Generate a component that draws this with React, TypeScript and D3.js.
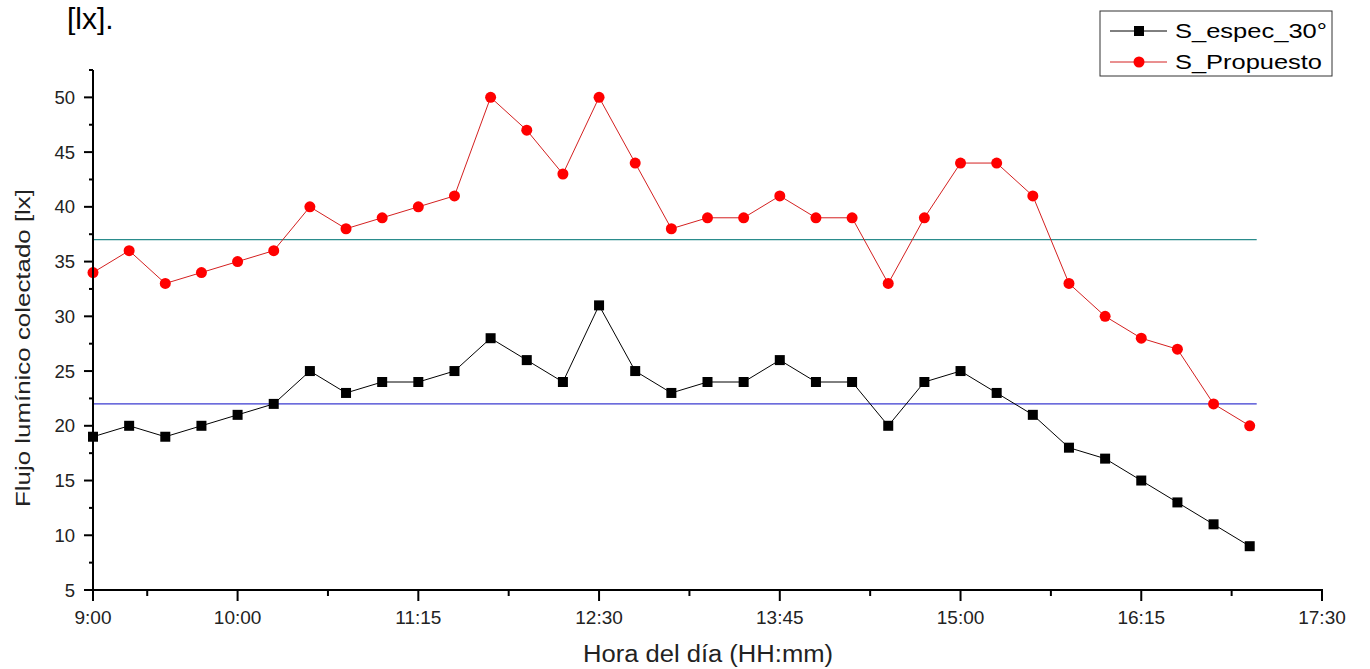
import React from "react";
import * as d3 from "d3";

const times = ["9:00","9:15","9:30","9:45","10:00","10:15","10:30","10:45","11:00","11:15","11:30","11:45","12:00","12:15","12:30","12:45","13:00","13:15","13:30","13:45","14:00","14:15","14:30","14:45","15:00","15:15","15:30","15:45","16:00","16:15","16:30","16:45","17:00"];
const sEspec = [19,20,19,20,21,22,25,23,24,24,25,28,26,24,31,25,23,24,24,26,24,24,20,24,25,23,21,18,17,15,13,11,9];
const sPropuesto = [34,36,33,34,35,36,40,38,39,40,41,50,47,43,50,44,38,39,39,41,39,39,33,39,44,44,41,33,30,28,27,22,20];
const xTickLabels = ["9:00","10:00","11:15","12:30","13:45","15:00","16:15","17:30"];
const xMinorLabels = ["9:22.5","10:37.5","11:52.5","13:07.5","14:22.5","15:37.5","16:52.5"];
const yTicks = [5,10,15,20,25,30,35,40,45,50];
const yMinor = [7.5,12.5,17.5,22.5,27.5,32.5,37.5,42.5,47.5,52.5];
const refLines = [{ value: 37, color: "#2a8c8c" }, { value: 22, color: "#3b3bd0" }];

const toMin = (s: string) => { const [h, m] = s.split(":"); return +h * 60 + parseFloat(m); };

export default function App() {
  const x = d3.scaleLinear().domain([toMin("9:00"), toMin("17:30")]).range([93, 1322]);
  const y = d3.scaleLinear().domain([5, 52.5]).range([590, 70]);
  const font = "'Liberation Sans', Arial, sans-serif";
  const lineGen = (vals: number[]) =>
    d3.line<number>().x((_, i) => x(toMin(times[i]))).y((v) => y(v))(vals) || "";
  const xEndRef = x(toMin("17:00")) + 7;

  return (
    <svg width={1370} height={669} style={{ position: "absolute", left: 0, top: 0, background: "#fff" }} fontFamily={font}>
      <text x={67} y={29} fontSize={30} fill="#000">[lx].</text>

      {refLines.map((r) => (
        <line key={r.value} x1={x(toMin("9:00"))} x2={xEndRef} y1={y(r.value)} y2={y(r.value)} stroke={r.color} strokeWidth={1.3} />
      ))}

      <path d={lineGen(sEspec)} fill="none" stroke="#000" strokeWidth={1} />
      <path d={lineGen(sPropuesto)} fill="none" stroke="#d42020" strokeWidth={1} />
      {sEspec.map((v, i) => (
        <rect key={"e" + i} x={x(toMin(times[i])) - 5} y={y(v) - 5} width={10} height={10} fill="#000" />
      ))}
      {sPropuesto.map((v, i) => (
        <circle key={"p" + i} cx={x(toMin(times[i]))} cy={y(v)} r={5.5} fill="#ff0000" />
      ))}

      {/* axes */}
      <line x1={93} x2={93} y1={70} y2={591} stroke="#000" strokeWidth={2} />
      <line x1={92} x2={1323} y1={590} y2={590} stroke="#000" strokeWidth={2} />
      {yTicks.map((t) => (
        <g key={"y" + t}>
          <line x1={84} x2={93} y1={y(t)} y2={y(t)} stroke="#000" strokeWidth={2} />
          <text x={75} y={y(t) + 6.5} fontSize={18.5} textAnchor="end" fill="#222">{t}</text>
        </g>
      ))}
      {yMinor.map((t) => (
        <line key={"ym" + t} x1={89} x2={93} y1={y(t)} y2={y(t)} stroke="#000" strokeWidth={2} />
      ))}
      {xTickLabels.map((t) => (
        <g key={"x" + t}>
          <line x1={x(toMin(t))} x2={x(toMin(t))} y1={590} y2={601} stroke="#000" strokeWidth={2} />
          <text x={x(toMin(t))} y={624} fontSize={19} textAnchor="middle" fill="#222">{t}</text>
        </g>
      ))}
      {xMinorLabels.map((t) => (
        <line key={"xm" + t} x1={x(toMin(t))} x2={x(toMin(t))} y1={590} y2={596} stroke="#000" strokeWidth={2} />
      ))}

      <text x={583} y={662} fontSize={23} textLength={250} lengthAdjust="spacingAndGlyphs" fill="#222">Hora del día (HH:mm)</text>
      <text transform="translate(30,507) rotate(-90)" fontSize={20} textLength={318} lengthAdjust="spacingAndGlyphs" fill="#222">Flujo lumínico colectado [lx]</text>

      {/* legend */}
      <rect x={1100} y={11} width={232} height={65} fill="#fff" stroke="#333" strokeWidth={1} />
      <line x1={1110} x2={1167} y1={31} y2={31} stroke="#000" strokeWidth={1} />
      <rect x={1134} y={26} width={10} height={10} fill="#000" />
      <text x={1175} y={38} fontSize={21} textLength={152} lengthAdjust="spacingAndGlyphs" fill="#000">S_espec_30°</text>
      <line x1={1110} x2={1167} y1={62} y2={62} stroke="#d42020" strokeWidth={1} />
      <circle cx={1139} cy={62} r={5.5} fill="#ff0000" />
      <text x={1175} y={69} fontSize={21} textLength={147} lengthAdjust="spacingAndGlyphs" fill="#000">S_Propuesto</text>
    </svg>
  );
}
